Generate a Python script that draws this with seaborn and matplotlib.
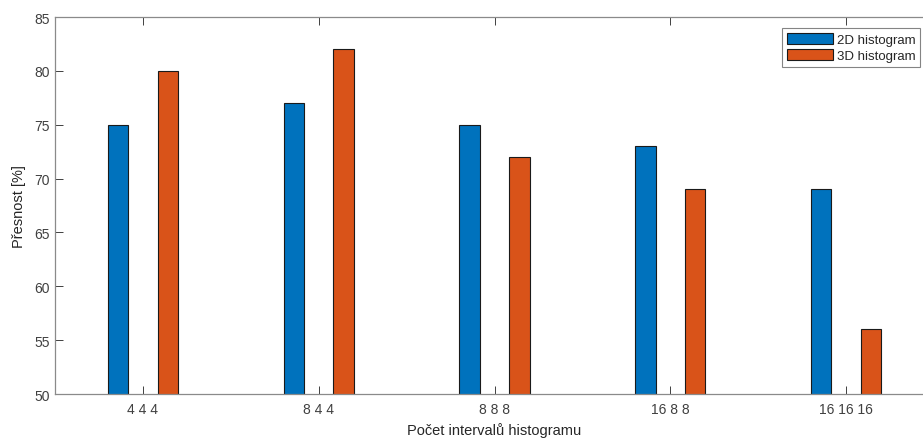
import matplotlib
matplotlib.use("Agg")
import matplotlib.pyplot as plt
import seaborn as sns
import pandas as pd

categories = ["4 4 4", "8 4 4", "8 8 8", "16 8 8", "16 16 16"]
series_names = ["2D histogram", "3D histogram"]
acc_2d = [75, 77, 75, 73, 69]
acc_3d = [80, 82, 72, 69, 56]
y_ticks = [50, 55, 60, 65, 70, 75, 80, 85]

df = pd.DataFrame({
    "kategorie": categories * 2,
    "metoda": [series_names[0]] * len(categories) + [series_names[1]] * len(categories),
    "presnost": acc_2d + acc_3d,
})

sns.set_theme(style="white")
plt.rcParams["font.family"] = ["Liberation Sans", "DejaVu Sans"]

axis_col = "#404040"
fig = plt.figure(figsize=(9.23, 4.39), dpi=100)
ax = fig.add_axes([55 / 923, 44 / 439, 879 / 923, 377 / 439])

sns.barplot(
    data=df, x="kategorie", y="presnost", hue="metoda",
    order=categories, hue_order=series_names,
    palette=["#0072BD", "#D95319"],
    width=0.568, gap=0.59, edgecolor="#1a1a1a", linewidth=0.8,
    errorbar=None, ax=ax, saturation=1,
)

ax.set_xlim(-0.5, len(categories) - 0.5)
ax.set_ylim(50, 85)
ax.set_yticks(y_ticks)
ax.set_xlabel("Počet intervalů histogramu", fontsize=10.5, color="#262626", labelpad=4)
ax.set_ylabel("Přesnost [%]", fontsize=10.5, color="#262626", labelpad=6)

for s in ax.spines.values():
    s.set_visible(True)
    s.set_color("#8a8a8a")
    s.set_linewidth(0.9)
ax.spines["right"].set_visible(False)

ax.tick_params(axis="both", direction="in", length=5.5, width=0.7, color=axis_col,
               labelsize=10, labelcolor=axis_col, top=True, right=False, left=True, bottom=True)
ax.tick_params(axis="x", pad=6)
ax.tick_params(axis="y", pad=4)

leg = ax.legend(
    loc="upper right", bbox_to_anchor=(920 / 923, 1 - 29 / 439),
    bbox_transform=fig.transFigure, fontsize=9.5, frameon=True, fancybox=False,
    handlelength=3.5, handleheight=1.0, handletextpad=0.3, borderpad=0.35,
    labelspacing=0.2, borderaxespad=0, title=None,
)
leg.get_frame().set_edgecolor("#666666")
leg.get_frame().set_linewidth(0.8)

fig.savefig("out.png", dpi=100)
